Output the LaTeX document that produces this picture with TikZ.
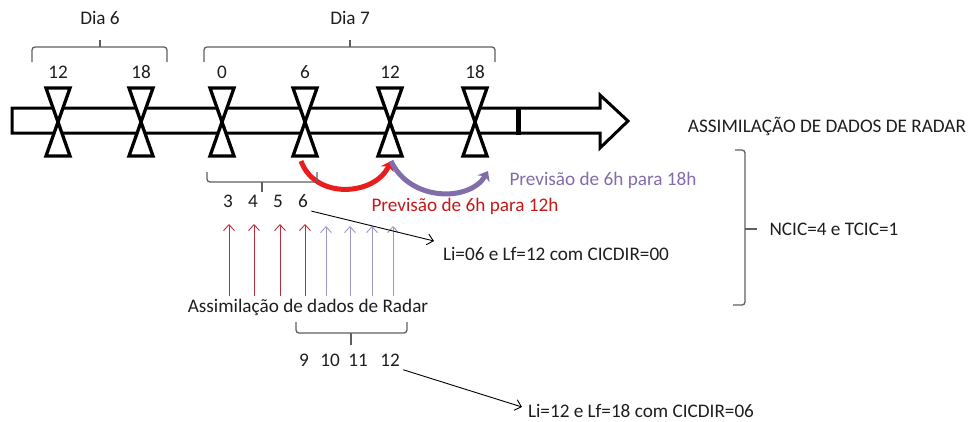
\documentclass[tikz,border=0pt]{standalone}
\usepackage{fontspec}
\setmainfont{Carlito}
\usetikzlibrary{arrows.meta}
\tikzset{>={Straight Barb[length=6pt,width=11pt]}}
\definecolor{darkred}{RGB}{185,45,60}
\definecolor{lightpurple}{RGB}{160,150,200}
\definecolor{brightred}{RGB}{232,30,30}
\definecolor{purple}{RGB}{130,108,170}
\definecolor{bracegray}{RGB}{95,95,95}
\definecolor{textgray}{RGB}{30,30,30}

\begin{document}
\begin{tikzpicture}[x=1pt,y=-1pt,font=\fontsize{19.2}{21}\selectfont,text=textgray]
  \useasboundingbox (0,0) rectangle (971,421);

  \newcommand\W{12}
  \tikzset{
    hour/.style={line width=3.3pt, fill=white, line join=miter},
    bracket/.style={bracegray, line width=1.3pt, rounded corners=3pt},
    thin/.style={->, line width=0.9pt}
  }

  % time axis
  \draw[line width=3pt, line join=miter, fill=white](12,108)--(600,108)--(600,95)--(628,121)--(600,148)--(600,133)--(12,133)--cycle;
  \draw[line width=5pt](518,106.5)--(518,134.5);

  \draw[hour](58-\W,88)--(58+\W,88)--(58-\W,156)--(58+\W,156)--cycle;
  \draw[hour](141-\W,88)--(141+\W,88)--(141-\W,156)--(141+\W,156)--cycle;
  \draw[hour](222-\W,88)--(222+\W,88)--(222-\W,156)--(222+\W,156)--cycle;
  \draw[hour](305-\W,88)--(305+\W,88)--(305-\W,156)--(305+\W,156)--cycle;
  \draw[hour](390-\W,88)--(390+\W,88)--(390-\W,156)--(390+\W,156)--cycle;
  \draw[hour](475-\W,88)--(475+\W,88)--(475-\W,156)--(475+\W,156)--cycle;

  \node (h12a) at (58,72) {12};
  \node (h18a) at (141,72) {18};
  \node (h0) at (222,72) {0};
  \node (h6) at (305,72) {6};
  \node (h12b) at (390,72) {12};
  \node (h18b) at (475,72) {18};

  % days
  \draw[bracket](32,62)--(32,47)--(167,47)--(167,62);
  \draw[bracket](100,47)--(100,40);
  \node (dia6) at (100,18) {Dia 6};

  \draw[bracket](204,62)--(204,47)--(495,47)--(495,62);
  \draw[bracket](350,47)--(350,40);
  \node (dia7) at (350,18) {Dia 7};

  % forecasts
  \coordinate (r0) at (301,161);
  \coordinate (r1) at (391,161);
  \coordinate (p1) at (488,171);
  \draw[->, brightred, line width=5pt, >={Stealth[length=9pt,width=14pt]}](r0) .. controls (315,200) and (375,196) .. (r1);
  \draw[->, purple, line width=5pt, >={Stealth[length=9pt,width=14pt]}](r1) .. controls (410,202) and (470,202) .. (p1);
  \node[text=brightred!85!black] (prev12) at (465,206) {Previsão de 6h para 12h};
  \node[text=purple] (prev18) at (603,180) {Previsão de 6h para 18h};

  % first cycle
  \draw[bracket](207,172)--(207,182)--(317,182)--(317,172);
  \draw[bracket](262,182)--(262,192);
  \node (n3) at (228,201) {3};
  \node (n4) at (253,201) {4};
  \node (n5) at (278,201) {5};
  \node (n6) at (303,201) {6};

  \coordinate (b1) at (229,296); \coordinate (t1) at (229,224);
  \coordinate (b2) at (254,296); \coordinate (t2) at (254,224);
  \coordinate (b3) at (280,296); \coordinate (t3) at (280,224);
  \coordinate (b4) at (305,296); \coordinate (t4) at (305,224);
  \coordinate (b5) at (326,296); \coordinate (t5) at (326,226);
  \coordinate (b6) at (350,296); \coordinate (t6) at (350,226);
  \coordinate (b7) at (372,296); \coordinate (t7) at (372,226);
  \coordinate (b8) at (393,296); \coordinate (t8) at (393,226);
  \draw[->, darkred, line width=0.9pt](b1)--(t1);
  \draw[->, darkred, line width=0.9pt](b2)--(t2);
  \draw[->, darkred, line width=0.9pt](b3)--(t3);
  \draw[->, darkred, line width=0.9pt](b4)--(t4);
  \draw[->, lightpurple, line width=0.9pt](b5)--(t5);
  \draw[->, lightpurple, line width=0.9pt](b6)--(t6);
  \draw[->, lightpurple, line width=0.9pt](b7)--(t7);
  \draw[->, lightpurple, line width=0.9pt](b8)--(t8);

  \node (li1) at (556,254) {Li=06 e Lf=12 com CICDIR=00};
  \coordinate (a1) at (434,241);
  \draw[thin](n6.south east)--(a1);

  \node (assim) at (308,307) {Assimilação de dados de Radar};

  % second cycle
  \draw[bracket](296,322)--(296,333)--(407,333)--(407,322);
  \draw[bracket](351,333)--(351,345);
  \node (n9) at (304,360) {9};
  \node (n10) at (330,360) {10};
  \node (n11) at (358,360) {11};
  \node (n12) at (390,360) {12};

  \node (li2) at (641,411) {Li=12 e Lf=18 com CICDIR=06};
  \coordinate (a2) at (522,407);
  \draw[thin](n12.south east)--(a2);

  % right side
  \node (title) at (827,126) {ASSIMILAÇÃO DE DADOS DE RADAR};
  \draw[bracket](735,150)--(745,150)--(745,305)--(733,305);
  \draw[bracket](745,229)--(757,229);
  \node[anchor=west] (ncic) at (766,229) {NCIC=4 e TCIC=1};
\end{tikzpicture}
\end{document}
